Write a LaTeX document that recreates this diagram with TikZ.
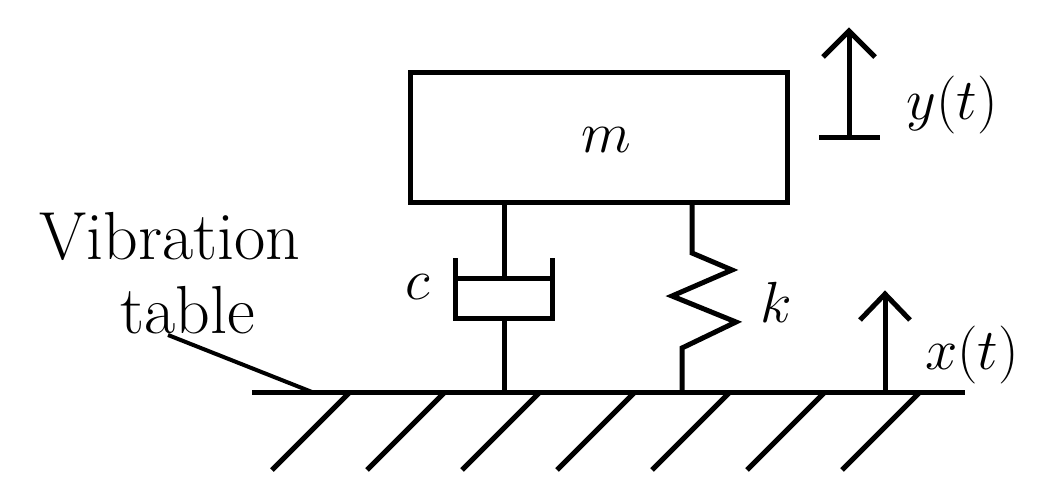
\RequirePackage{fix-cm}
\documentclass[tikz,border=0pt]{standalone}
\begin{document}
\begin{tikzpicture}[x=1pt,y=-1pt,line width=5pt,
  lbl/.style={font=\fontsize{58}{58}\selectfont,inner sep=0pt},
  head/.style={line cap=butt,line join=miter}]
\useasboundingbox (0,0) rectangle (1040,492);
\node[draw,minimum width=377pt,minimum height=130pt,anchor=north west,line width=5pt] (mass) at (408,70) {};
\node[lbl] (m) at (606,140) {$m$};
\coordinate (g1) at (252,392); \coordinate (g2) at (965,392);
\draw (g1) -- (g2);
\foreach \x in {350,445,540,635,730,825,920} \draw (\x,392) -- (\x-78,470);
% damper
\draw (504,200) -- (504,278);
\draw (455,258) -- (455,318) -- (552,318) -- (552,258);
\draw (455,278) -- (552,278);
\draw (504,318) -- (504,392);
\node[lbl] (c) at (418,287) {$c$};
% spring
\draw[line join=miter] (692,200) -- (692,253) -- (732,270) -- (672,296) -- (736,322) -- (682,348) -- (682,392);
\node[lbl] (k) at (776,302) {$k$};
% y arrow
\draw (849,137) -- (849,32);
\draw[head] (823,57) -- (849,31) -- (875,57);
\draw (819,137) -- (880,137);
\node[lbl] (y) at (952,105) {$y(t)$};
% x arrow
\draw (885,392) -- (885,295);
\draw[head] (860,320) -- (885,294) -- (910,320);
\node[lbl] (xl) at (972,355) {$x(t)$};
% label
\node[lbl,font=\fontsize{68}{68}\selectfont] (vib) at (170,236) {Vibration};
\node[lbl,font=\fontsize{68}{68}\selectfont] (tab) at (188,310) {table};
\coordinate (lead) at (168,335);
\draw[line width=4pt] (lead) -- (312,392);
\end{tikzpicture}
\end{document}
